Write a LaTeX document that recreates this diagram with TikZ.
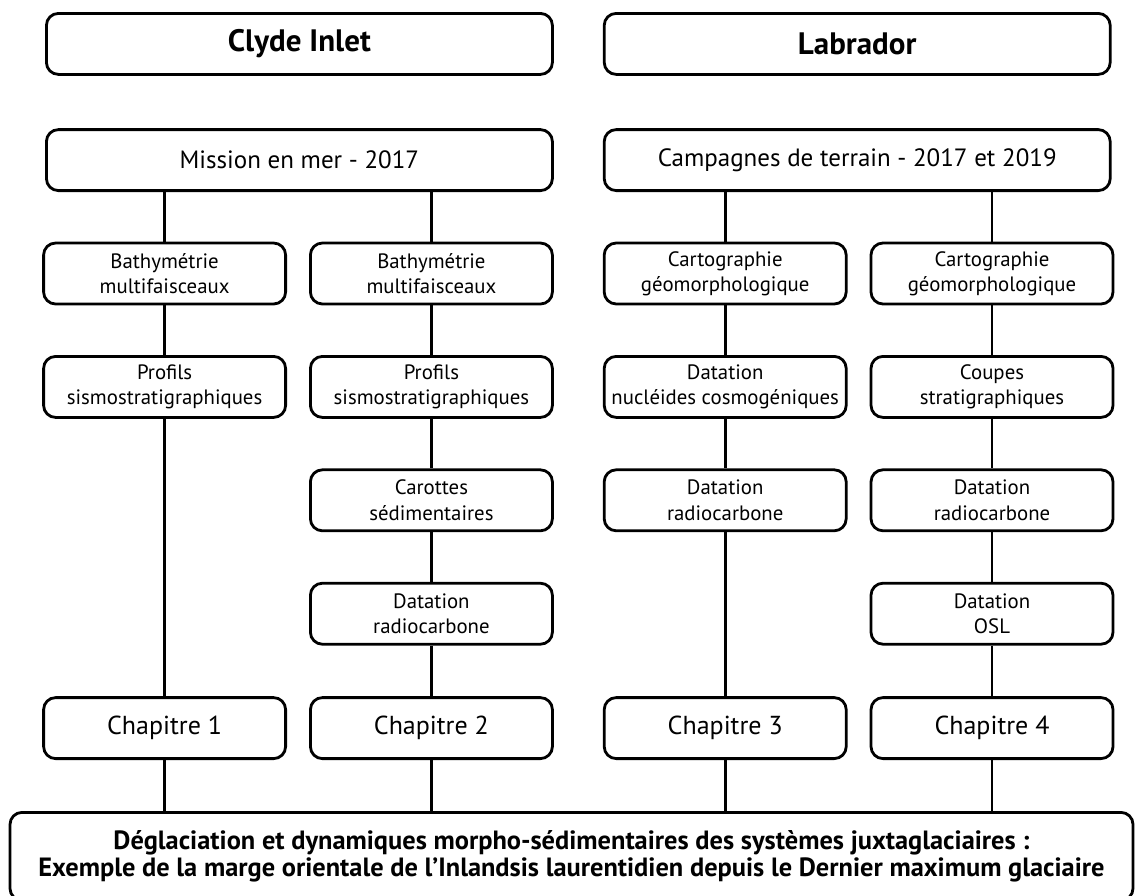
\documentclass[tikz,border=0pt]{standalone}
\usepackage{fontspec}
\setmainfont{PT Sans}
\usepackage{tikz}
\usetikzlibrary{positioning}

\tikzset{
  boite/.style={draw, rectangle, rounded corners=6pt, line width=1.4pt, align=center, inner sep=1pt},
  titre/.style={boite, minimum width=253pt, minimum height=30.5pt, font=\fontsize{15.5}{17}\selectfont\bfseries},
  terrain/.style={boite, minimum width=253pt, minimum height=30.5pt, font=\fontsize{12.5}{15}\selectfont},
  etape/.style={boite, minimum width=121pt, minimum height=30.5pt, font=\fontsize{10.4}{12.6}\selectfont},
  chapitre/.style={boite, minimum width=121pt, minimum height=30.5pt, font=\fontsize{13}{15}\selectfont},
  lien/.style={line width=1.4pt}
}

\begin{document}
\begin{tikzpicture}[node distance=24.8pt]
\useasboundingbox (0,0) rectangle (567.5pt,-447.5pt);
% sites
\node (clyde) [titre, anchor=north west] at (22.5pt,-6pt) {Clyde Inlet};
\node (labrador) [titre, right=24.5pt of clyde] {Labrador};
\node (mission) [terrain, below=26.2pt of clyde] {Mission en mer - 2017};
\node (campagnes) [terrain, below=26.2pt of labrador] {Campagnes de terrain - 2017 et 2019};

% Clyde Inlet
\node (bathy2) [etape, below left=24.8pt and 0pt of mission.south east] {Bathymétrie\\multifaisceaux};
\node (bathy1) [etape, left=11pt of bathy2] {Bathymétrie\\multifaisceaux};
\node (profils2) [etape, below=of bathy2] {Profils\\sismostratigraphiques};
\node (profils1) [etape, left=11pt of profils2] {Profils\\sismostratigraphiques};
\node (carottes2) [etape, below=of profils2] {Carottes\\sédimentaires};
\node (radio2) [etape, below=of carottes2] {Datation\\radiocarbone};
\node (chap2) [chapitre, below=25.3pt of radio2] {Chapitre 2};
\node (chap1) [chapitre, left=11pt of chap2] {Chapitre 1};

% Labrador
\node (carto3) [etape, below right=24.8pt and 0pt of campagnes.south west] {Cartographie\\géomorphologique};
\node (carto4) [etape, right=11pt of carto3] {Cartographie\\géomorphologique};
\node (nucl3) [etape, below=of carto3] {Datation\\nucléides cosmogéniques};
\node (radio3) [etape, below=of nucl3] {Datation\\radiocarbone};
\node (coupes4) [etape, below=of carto4] {Coupes\\stratigraphiques};
\node (radio4) [etape, below=of coupes4] {Datation\\radiocarbone};
\node (osl4) [etape, below=of radio4] {Datation\\OSL};
\node (chap4) [chapitre, below=25.3pt of osl4] {Chapitre 4};
\node (chap3) [chapitre, left=11pt of chap4] {Chapitre 3};

% synthese
\node (synthese) [boite, anchor=north, minimum width=561.5pt, minimum height=44pt, font=\fontsize{13.2}{13.2}\selectfont\bfseries] at (285.75pt,-405.5pt) {Déglaciation et dynamiques morpho-sédimentaires des systèmes juxtaglaciaires :\\Exemple de la marge orientale de l’Inlandsis laurentidien depuis le Dernier maximum glaciaire};

% liens
\draw[lien] (bathy1.north |- mission.south) -- (bathy1.north);
\draw[lien] (bathy2.north |- mission.south) -- (bathy2.north);
\draw[lien] (carto3.north |- campagnes.south) -- (carto3.north);
\draw[lien] (carto4.north |- campagnes.south) -- (carto4.north);
\draw[lien] (bathy1) -- (profils1);
\draw[lien] (profils1) -- (chap1);
\draw[lien] (bathy2) -- (profils2);
\draw[lien] (profils2) -- (carottes2);
\draw[lien] (carottes2) -- (radio2);
\draw[lien] (radio2) -- (chap2);
\draw[lien] (carto3) -- (nucl3);
\draw[lien] (nucl3) -- (radio3);
\draw[lien] (radio3) -- (chap3);
\draw[lien] (carto4) -- (coupes4);
\draw[lien] (coupes4) -- (radio4);
\draw[lien] (radio4) -- (osl4);
\draw[lien] (osl4) -- (chap4);
\foreach \c in {chap1, chap2, chap3, chap4}
  \draw[lien] (\c.south) -- (\c.south |- synthese.north);
\end{tikzpicture}
\end{document}
